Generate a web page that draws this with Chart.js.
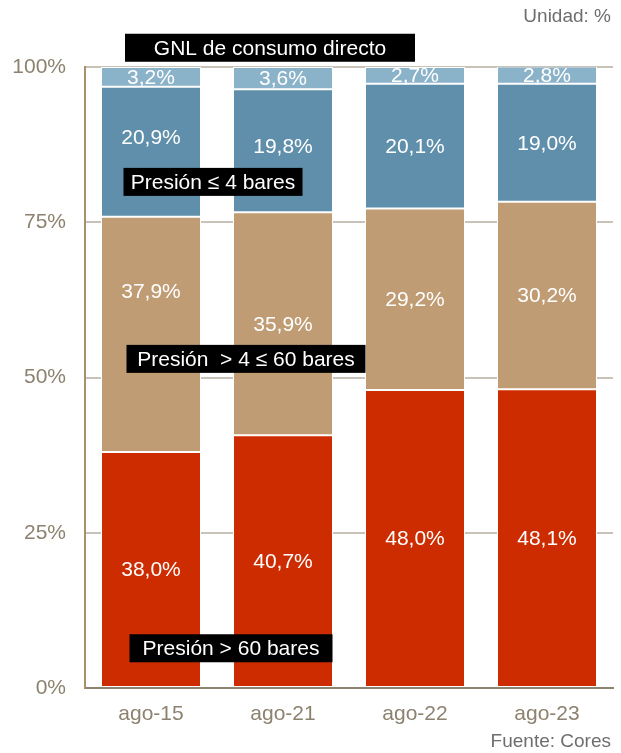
<!DOCTYPE html>
<html lang="es">
<head>
    <meta charset="UTF-8">
    <title>Consumo de gas natural por presión</title>
    <style>
        body, html {
            margin: 0;
            padding: 0;
            background: #fff;
        }
        .chart-container {
            position: relative;
            width: 621px;
            height: 753px;
        }
    </style>
    <script src="https://cdn.jsdelivr.net/npm/chart.js"></script>
</head>
<body>
    <div class="chart-container">
        <canvas id="gasChart"></canvas>
    </div>
    <script>
        // datos (%)
        const categories = ['ago-15', 'ago-21', 'ago-22', 'ago-23'];
        const seriesNames = ['Presión > 60 bares', 'Presión  > 4 ≤ 60 bares', 'Presión ≤ 4 bares', 'GNL de consumo directo'];
        const above60 = [38.0, 40.7, 48.0, 48.1];
        const from4to60 = [37.9, 35.9, 29.2, 30.2];
        const upTo4 = [20.9, 19.8, 20.1, 19.0];
        const lngDirect = [3.2, 3.6, 2.7, 2.8];
        const yTicks = [0, 25, 50, 75, 100];

        const colors = ['#CC2C00', '#C09C74', '#5F8FAA', '#8AB2C8'];
        const fontFamily = '"Liberation Sans", Arial, sans-serif';

        const fmt = v => v.toFixed(1).replace('.', ',') + '%';

        // etiquetas de valor centradas en cada tramo
        const valueLabels = {
            id: 'valueLabels',
            afterDatasetsDraw(chart) {
                const ctx = chart.ctx;
                // ajustes manuales como en el original (dataset-index)
                const nudge = { '1-0': -43, '2-0': -15, '2-1': -5 };
                ctx.save();
                ctx.fillStyle = '#fff';
                ctx.font = '21px ' + fontFamily;
                ctx.textAlign = 'center';
                ctx.textBaseline = 'middle';
                chart.data.datasets.forEach((ds, di) => {
                    chart.getDatasetMeta(di).data.forEach((bar, i) => {
                        const props = bar.getProps(['x', 'y', 'base'], true);
                        let y = (props.y + props.base) / 2;
                        y += nudge[di + '-' + i] || 0;
                        ctx.fillText(fmt(ds.data[i]), props.x, y + 1);
                    });
                });
                ctx.restore();
            }
        };

        // cajas negras con el nombre de cada serie
        const seriesBoxes = {
            id: 'seriesBoxes',
            afterDraw(chart) {
                const ctx = chart.ctx;
                const left = chart.chartArea.left;
                const y = chart.scales.y;
                const spots = [
                    { dx: 146, v: 6.4, w: 203 },
                    { dx: 161, v: 53.0, w: 239 },
                    { dx: 128, v: 81.5, w: 179 },
                    { dx: 185, v: 103.1, w: 290 }
                ];
                ctx.save();
                ctx.font = '21px ' + fontFamily;
                ctx.textAlign = 'center';
                ctx.textBaseline = 'middle';
                seriesNames.forEach((name, i) => {
                    const s = spots[i];
                    const cx = left + s.dx;
                    const cy = y.getPixelForValue(s.v);
                    const h = 28;
                    ctx.fillStyle = '#000';
                    ctx.fillRect(cx - s.w / 2, cy - h / 2, s.w, h);
                    ctx.fillStyle = '#fff';
                    ctx.fillText(name, cx, cy + 1);
                });

                // unidad y fuente
                ctx.fillStyle = '#6E6E6E';
                ctx.font = '19px ' + fontFamily;
                ctx.textAlign = 'right';
                ctx.fillText('Unidad: %', 611, 17);
                ctx.fillText('Fuente: Cores', 611, 742);
                ctx.restore();
            }
        };

        const datasets = [above60, from4to60, upTo4, lngDirect].map((values, i) => ({
            label: seriesNames[i],
            data: values,
            backgroundColor: colors[i],
            borderColor: '#fff',
            borderWidth: 1,
            borderSkipped: false,
            categoryPercentage: 1,
            barPercentage: 100 / 132
        }));

        const ctx = document.getElementById('gasChart').getContext('2d');
        new Chart(ctx, {
            type: 'bar',
            data: { labels: categories, datasets: datasets },
            options: {
                responsive: true,
                maintainAspectRatio: false,
                animation: false,
                layout: { padding: { top: 67, right: 8, bottom: 0, left: 0 } },
                plugins: {
                    legend: { display: false },
                    tooltip: { enabled: false }
                },
                scales: {
                    x: {
                        stacked: true,
                        grid: { display: false },
                        border: { color: '#8C8470', width: 2 },
                        ticks: {
                            color: '#8C8270',
                            padding: 6,
                            font: { family: fontFamily, size: 21 }
                        },
                        afterFit(scale) { scale.height = 65; }
                    },
                    y: {
                        stacked: true,
                        min: 0,
                        max: 100,
                        afterBuildTicks(scale) {
                            scale.ticks = yTicks.map(v => ({ value: v }));
                        },
                        afterFit(scale) { scale.width = 85; },
                        grid: {
                            color: ctx => ctx.tick && ctx.tick.value === 0 ? 'rgba(0,0,0,0)' : '#C8C2B8',
                            lineWidth: 2,
                            drawTicks: false
                        },
                        border: { color: '#A8906C', width: 2 },
                        ticks: {
                            color: '#8C8270',
                            padding: 19,
                            font: { family: fontFamily, size: 21 },
                            callback: v => v + '%'
                        }
                    }
                }
            },
            plugins: [valueLabels, seriesBoxes]
        });
    </script>
</body>
</html>
